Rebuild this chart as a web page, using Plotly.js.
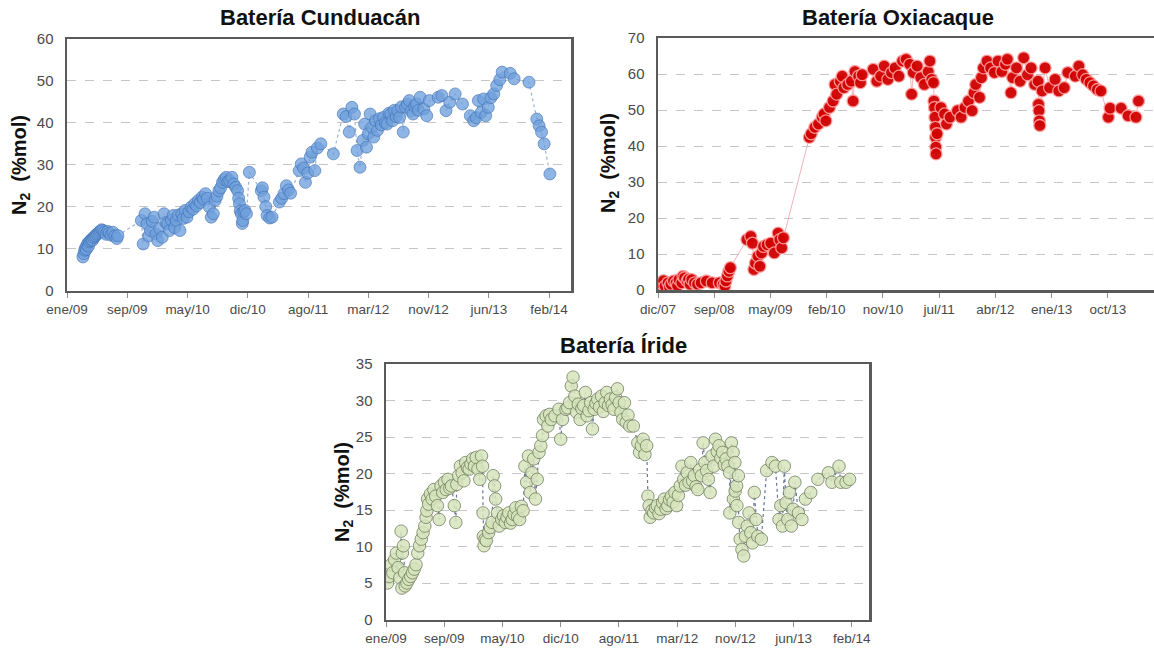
<!DOCTYPE html>
<html>
<head>
<meta charset="utf-8">
<script src="https://cdn.plot.ly/plotly-3.0.1.min.js"></script>
<style>
html,body{margin:0;padding:0;background:#fff;}
#chart{width:1154px;height:649px;}
</style>
</head>
<body>
<div id="chart"></div>
<script>
// ---------------- DATA ----------------
const titles = ['Batería Cunduacán', 'Batería Oxiacaque', 'Batería Íride'];
const yTitle = 'N<sub>2</sub>\u00a0\u00a0(%mol)';

// Tick labels (bottom axes)
const ticksA = ['ene/09','sep/09','may/10','dic/10','ago/11','mar/12','nov/12','jun/13','feb/14'];
const tickDatesA = ['2009-01-25','2009-09-13','2010-05-02','2010-12-19','2011-08-07','2012-03-25','2012-11-11','2013-06-30','2014-02-16'];
const ticksB = ['dic/07','sep/08','may/09','feb/10','nov/10','jul/11','abr/12','ene/13','oct/13'];
const tickDatesB = ['2007-12-14','2008-09-04','2009-05-27','2010-02-16','2010-11-08','2011-07-31','2012-04-21','2013-01-11','2013-10-03'];

// Batería Cunduacán
const cunDates = [
'2009-03-27','2009-03-31','2009-04-03','2009-04-06','2009-04-09','2009-04-12','2009-04-15','2009-04-18','2009-04-21','2009-04-25',
'2009-04-29','2009-05-03','2009-05-07','2009-05-11','2009-05-15','2009-05-19','2009-05-23','2009-05-28','2009-06-02','2009-06-07',
'2009-06-12','2009-06-18','2009-06-24','2009-06-30','2009-07-06','2009-07-13','2009-07-20','2009-07-27','2009-08-04','2009-08-08',
'2009-11-06','2009-11-13','2009-11-20','2009-11-27','2009-12-04','2009-12-11','2009-12-18','2009-12-25','2010-01-01','2010-01-08',
'2010-01-15','2010-01-25','2010-02-01','2010-02-08','2010-02-15','2010-02-22','2010-03-01','2010-03-08','2010-03-14','2010-03-20',
'2010-03-27','2010-04-03','2010-04-10','2010-04-16','2010-04-23','2010-04-30','2010-05-08','2010-05-16','2010-05-23','2010-05-30',
'2010-06-06','2010-06-13','2010-06-20','2010-06-27','2010-07-03','2010-07-10','2010-07-17','2010-07-25','2010-08-01','2010-08-09',
'2010-08-16','2010-08-23','2010-08-30','2010-09-06','2010-09-13','2010-09-20','2010-09-27','2010-10-04','2010-10-11','2010-10-19',
'2010-10-26','2010-11-03','2010-11-10','2010-11-14','2010-11-17','2010-11-20','2010-11-24','2010-11-28','2010-11-30','2010-12-04',
'2010-12-08','2010-12-14','2010-12-25',
'2011-02-09','2011-02-13','2011-02-19','2011-02-26','2011-03-03','2011-03-13','2011-03-22',
'2011-04-19','2011-04-28','2011-05-07','2011-05-16','2011-05-24','2011-06-01',
'2011-07-04','2011-07-12','2011-07-21','2011-07-28','2011-08-06','2011-08-15','2011-08-22','2011-09-02','2011-09-12','2011-09-25',
'2011-11-12',
'2011-12-20','2011-12-31','2012-01-12','2012-01-22','2012-02-01','2012-02-11','2012-02-22','2012-03-04','2012-03-11','2012-03-18',
'2012-03-25','2012-04-01','2012-04-08','2012-04-15','2012-04-22','2012-04-29','2012-05-07','2012-05-14','2012-05-22','2012-05-29',
'2012-06-05','2012-06-12','2012-06-19','2012-06-26','2012-07-03','2012-07-10','2012-07-16','2012-07-23','2012-07-30','2012-08-06',
'2012-08-15','2012-08-22','2012-08-29','2012-09-05','2012-09-12','2012-09-19','2012-09-26','2012-10-03','2012-10-10','2012-10-24',
'2012-11-04','2012-11-14','2012-12-18','2013-01-01','2013-01-17','2013-01-31','2013-02-21','2013-03-21','2013-04-20','2013-05-03',
'2013-05-13','2013-05-21','2013-06-01','2013-06-10','2013-06-18','2013-06-28','2013-07-08','2013-07-19','2013-07-30','2013-08-11',
'2013-08-20','2013-09-20','2013-10-05','2013-12-01','2013-12-31','2014-01-09','2014-01-18','2014-01-28','2014-02-19'];
const cunN2 = [
8.0,8.8,9.6,10.2,9.8,10.8,11.3,10.6,11.6,11.9,
12.2,12.0,12.6,12.9,13.1,13.4,13.6,13.9,14.2,14.5,
14.3,13.9,13.4,14.1,13.7,13.2,13.9,13.0,12.4,13.1,
16.7,11.1,18.3,15.9,13.0,14.3,16.5,17.5,13.5,11.9,
14.8,12.7,18.3,16.2,15.9,14.3,16.8,17.9,15.0,16.7,
18.0,14.3,18.3,17.2,19.1,17.5,18.8,19.9,19.4,20.7,
20.2,21.5,21.0,22.3,21.8,23.1,22.0,19.9,17.5,18.3,
21.5,22.5,23.8,24.5,25.8,26.5,27.0,26.0,26.2,27.0,
25.4,24.6,23.8,22.0,20.7,19.0,18.3,16.0,16.7,18.8,
19.1,18.3,28.2,
23.8,24.5,22.3,20.0,17.9,17.3,17.5,
21.1,22.0,23.1,25.0,24.0,23.2,
28.6,30.2,29.2,25.8,28.0,31.8,33.0,28.6,34.0,35.0,
32.6,
42.1,41.5,37.8,43.7,42.1,33.4,29.4,35.8,39.7,34.2,
37.4,42.1,38.9,36.6,40.5,38.2,41.0,39.5,41.3,40.0,
39.7,42.3,42.1,40.5,43.0,41.5,42.9,41.3,43.8,37.8,
43.7,44.5,45.3,42.8,42.1,44.0,44.5,43.0,46.1,43.3,
41.7,45.3,46.1,46.5,42.9,44.9,46.9,44.5,41.7,40.5,
41.2,45.3,42.5,45.7,41.7,43.7,46.0,46.9,48.9,50.3,
52.1,51.8,50.5,49.7,40.9,39.3,37.8,35.0,27.8];

// Batería Oxiacaque
const oxiDates = [
'2007-12-23','2008-01-04','2008-01-09','2008-01-16','2008-01-30','2008-02-06','2008-02-13','2008-02-25','2008-03-08','2008-03-15',
'2008-03-22','2008-04-04','2008-04-10','2008-04-17','2008-04-29','2008-05-06','2008-05-13','2008-05-21','2008-06-03','2008-06-17',
'2008-07-04','2008-07-29','2008-08-25','2008-09-28','2008-10-16','2008-10-24','2008-10-29','2008-11-05','2008-11-12','2008-11-19',
'2009-02-05','2009-02-23','2009-03-03','2009-03-10','2009-03-17','2009-03-29','2009-04-07','2009-04-15','2009-04-24','2009-05-11',
'2009-05-28','2009-06-14','2009-07-02','2009-07-10','2009-07-19','2009-07-27',
'2009-11-26','2009-12-05','2009-12-22','2010-01-08','2010-01-26','2010-02-03','2010-02-12','2010-03-01','2010-03-18','2010-03-27',
'2010-04-04','2010-04-21','2010-04-30','2010-05-08','2010-05-26','2010-06-12','2010-06-20','2010-06-29','2010-07-16','2010-07-25',
'2010-08-02','2010-09-23','2010-10-10','2010-10-28','2010-11-14','2010-12-01','2010-12-18','2011-01-04','2011-01-22','2011-02-08',
'2011-02-25','2011-03-14','2011-03-23','2011-03-31','2011-04-18','2011-05-05','2011-05-22','2011-06-09','2011-06-17','2011-06-26',
'2011-07-04','2011-07-06','2011-07-09','2011-07-11','2011-07-13','2011-07-14','2011-07-15','2011-07-16','2011-07-21','2011-08-08',
'2011-08-25','2011-09-03','2011-09-20','2011-10-25','2011-11-11','2011-11-29','2011-12-16','2012-01-02','2012-01-11','2012-01-19',
'2012-02-06','2012-02-15','2012-02-24','2012-03-12','2012-03-29','2012-04-16','2012-05-03','2012-05-21','2012-06-07','2012-06-16',
'2012-07-03','2012-07-11','2012-07-29','2012-08-15','2012-09-01','2012-09-19','2012-10-06','2012-10-23','2012-11-08','2012-11-10',
'2012-11-12','2012-11-14','2012-11-16','2012-11-27','2012-12-11','2013-01-01','2013-01-27','2013-02-13','2013-03-11','2013-03-28',
'2013-05-02','2013-05-19','2013-06-06','2013-06-23','2013-07-10','2013-07-27','2013-08-14','2013-08-31','2013-10-05','2013-10-13',
'2013-12-04','2014-01-06','2014-02-12','2014-02-24'];
const oxiN2 = [
0.6,1.6,2.6,1.1,2.0,0.8,1.6,2.5,2.0,1.2,
2.9,2.0,3.8,3.4,2.5,3.0,1.6,2.9,2.0,1.6,
2.0,2.5,2.0,2.0,1.6,1.1,2.5,3.9,5.2,6.2,
14.0,14.9,13.0,5.7,7.5,9.4,6.6,10.3,12.1,12.6,
13.0,10.3,15.8,14.0,11.7,14.5,
42.4,43.4,45.2,46.1,48.0,48.9,47.0,50.7,52.5,57.1,
54.4,58.0,59.4,56.2,57.1,58.0,52.5,60.7,59.4,57.6,
59.8,61.3,58.0,59.4,62.2,58.5,60.4,61.7,59.4,63.6,
64.1,62.7,54.4,60.4,62.2,59.0,57.1,60.7,63.6,58.5,
57.6,52.5,50.7,48.0,45.2,42.4,39.7,37.8,43.4,50.7,
48.9,46.1,48.0,49.8,48.0,50.7,52.5,49.8,54.8,57.1,
53.5,59.0,61.7,63.6,61.7,60.4,63.6,60.7,62.7,64.1,
54.8,59.0,61.7,58.0,64.5,59.8,61.7,57.1,58.0,51.6,
49.8,47.0,45.7,55.3,61.7,56.2,58.5,55.3,56.2,60.4,
59.4,62.2,59.8,58.5,57.6,56.7,55.7,55.3,48.0,50.5,
50.5,48.4,48.0,52.5];

// Batería Íride
const iriDates = [
'2009-01-31','2009-02-07','2009-02-14','2009-02-21','2009-02-28','2009-03-07','2009-03-14','2009-03-21','2009-03-26','2009-03-29',
'2009-03-31','2009-04-04','2009-04-09','2009-04-11','2009-04-18','2009-04-25','2009-05-03','2009-05-10','2009-05-17','2009-05-24',
'2009-05-31','2009-06-07','2009-06-14','2009-06-21','2009-06-28','2009-07-03','2009-07-06','2009-07-09','2009-07-13','2009-07-20',
'2009-07-27','2009-08-03','2009-08-10','2009-08-17','2009-08-24','2009-08-31','2009-09-07','2009-09-14','2009-09-21','2009-09-28',
'2009-10-05','2009-10-12','2009-10-23','2009-10-29','2009-11-02','2009-11-09','2009-11-16','2009-11-23','2009-11-30','2009-12-07',
'2009-12-14','2009-12-21','2009-12-28','2010-01-04','2010-01-11','2010-01-18','2010-01-25','2010-02-01','2010-02-08','2010-02-12',
'2010-02-14','2010-02-15','2010-02-18','2010-02-22','2010-02-27','2010-03-08','2010-03-15','2010-03-22','2010-03-26','2010-04-01',
'2010-04-05','2010-04-12','2010-04-19','2010-04-29','2010-05-06','2010-05-13','2010-05-20','2010-05-27','2010-06-03','2010-06-10',
'2010-06-17','2010-06-24','2010-07-01','2010-07-09','2010-07-16','2010-07-23','2010-07-30','2010-08-06','2010-08-13','2010-08-20',
'2010-08-27','2010-09-03','2010-09-10','2010-09-17','2010-09-24','2010-10-01','2010-10-08','2010-10-12','2010-10-22','2010-10-29',
'2010-11-05','2010-11-12','2010-11-26','2010-12-12','2010-12-19','2010-12-26','2011-01-09','2011-01-16','2011-01-23','2011-01-30',
'2011-02-06','2011-02-13','2011-02-20','2011-02-27','2011-03-06','2011-03-13','2011-03-20','2011-03-27','2011-04-03','2011-04-10',
'2011-04-17','2011-04-24','2011-05-01','2011-05-08','2011-05-15','2011-05-22','2011-05-30','2011-06-06','2011-06-13','2011-06-20',
'2011-06-27','2011-07-04','2011-07-11','2011-07-18','2011-07-25','2011-08-01','2011-08-08','2011-08-15','2011-08-22','2011-08-29',
'2011-09-05','2011-09-12','2011-09-19','2011-10-03','2011-10-21','2011-10-28','2011-11-04','2011-11-11','2011-11-18','2011-11-25',
'2011-11-30','2011-12-05','2011-12-09','2011-12-16','2011-12-23','2011-12-30','2012-01-06','2012-01-13','2012-01-20','2012-01-27',
'2012-02-03','2012-02-10','2012-02-17','2012-02-24','2012-03-02','2012-03-09','2012-03-16','2012-03-23','2012-03-30','2012-04-06',
'2012-04-13','2012-04-20','2012-04-27','2012-05-04','2012-05-11','2012-05-18','2012-05-25','2012-06-01','2012-06-08','2012-06-15',
'2012-06-22','2012-06-29','2012-07-06','2012-07-13','2012-07-20','2012-07-27','2012-08-03','2012-08-10','2012-08-17','2012-08-24',
'2012-08-31','2012-09-07','2012-09-14','2012-09-21','2012-09-28','2012-10-05','2012-10-12','2012-10-19','2012-10-20','2012-10-26',
'2012-11-02','2012-11-03','2012-11-09','2012-11-10','2012-11-16','2012-11-17','2012-11-23','2012-11-24','2012-11-30','2012-12-07',
'2012-12-14','2012-12-21','2012-12-28','2013-01-04','2013-01-11','2013-01-18','2013-01-25','2013-02-01','2013-02-08','2013-02-22',
'2013-03-15','2013-04-05','2013-04-19','2013-05-03','2013-05-10','2013-05-17','2013-05-24','2013-05-31','2013-06-07','2013-06-14',
'2013-06-21','2013-06-28','2013-07-05','2013-07-19','2013-08-02','2013-08-16','2013-09-06','2013-10-04','2013-11-15','2013-11-29',
'2013-12-27','2014-01-03','2014-01-24','2014-02-07'];
const iriN2 = [
5.0,5.9,7.5,6.4,8.2,9.1,7.1,5.7,12.1,4.3,
9.1,10.1,6.4,4.6,5.0,5.5,5.9,6.4,6.9,7.5,
9.1,10.1,11.0,11.9,12.8,14.0,14.9,16.5,15.8,17.2,
16.5,17.8,16.9,15.6,13.7,18.3,17.4,18.8,17.8,19.2,
18.0,18.3,15.6,13.3,18.5,19.7,21.0,20.1,19.0,21.5,
20.8,20.6,21.3,22.0,21.0,22.2,20.6,19.2,22.4,21.0,
14.6,11.4,10.1,11.0,10.8,11.9,12.6,13.3,19.7,18.3,
16.5,14.6,12.8,13.7,14.2,13.3,14.0,14.6,13.2,13.7,
14.4,15.3,14.1,13.7,15.5,14.9,21.0,18.8,22.4,17.4,
20.1,22.0,16.5,19.2,22.9,23.8,25.2,27.4,27.9,26.5,
28.1,27.4,27.9,28.8,24.7,27.4,28.8,29.0,29.7,32.0,
33.2,30.6,28.4,29.5,27.4,28.9,29.3,31.1,27.9,28.6,
29.7,26.1,28.8,29.6,30.2,29.1,30.6,28.5,29.7,31.1,
29.3,30.2,29.4,28.8,30.4,31.6,29.7,28.4,27.4,29.7,
27.0,28.0,26.5,26.5,24.2,22.9,23.8,24.7,22.6,23.8,
16.9,15.6,14.0,14.9,14.6,15.3,15.6,14.5,15.1,16.0,
16.5,15.2,15.6,16.4,16.9,16.1,17.4,15.6,17.0,18.3,
21.0,19.2,18.4,20.1,18.8,21.5,19.0,19.7,18.2,17.8,
20.5,19.7,24.2,21.5,20.4,19.2,17.4,22.4,21.0,24.7,
23.0,23.8,22.1,22.9,21.2,22.0,21.0,20.1,14.6,24.2,
22.9,16.5,21.5,17.6,18.3,15.6,19.7,13.3,11.0,9.6,
8.7,11.4,12.8,14.6,11.9,10.5,17.4,13.7,11.4,11.0,
20.4,21.5,21.0,13.7,15.6,12.8,21.0,16.0,13.7,17.4,
12.8,15.1,18.8,14.6,13.7,16.5,17.4,19.2,20.1,18.8,
21.0,18.8,18.8,19.2];

// ---------------- LAYOUT HELPERS ----------------
const W = 1154, H = 649;
const px = v => v / W;
const py = v => (H - v) / H;

const tickFont = {family: 'Liberation Sans, Arial, sans-serif', size: 13.5, color: '#4a4a4a'};
const yTickFont = {family: 'Liberation Sans, Arial, sans-serif', size: 15, color: '#4a4a4a'};

function xAxis(dom, range, tv, tt, anchor) {
  return {
    type: 'date', domain: dom, range: range, anchor: anchor,
    tickmode: 'array', tickvals: tv, ticktext: tt,
    ticks: 'outside', ticklen: 5, tickwidth: 1, tickcolor: '#8c8c8c',
    tickfont: tickFont, showgrid: false, zeroline: false,
    showline: true, linecolor: '#5a5a5a', linewidth: 2.5, mirror: true
  };
}
function yAxis(dom, maxv, step, anchor) {
  return {
    domain: dom, range: [0, maxv], dtick: step, tick0: 0, anchor: anchor,
    ticks: 'outside', ticklen: 8, tickcolor: 'rgba(0,0,0,0)',
    tickfont: yTickFont, showgrid: true, gridcolor: '#c6c6c6', gridwidth: 1, griddash: 'dash',
    zeroline: false, showline: true, linecolor: '#5a5a5a', linewidth: 2.5, mirror: true
  };
}

const traces = [
  {
    x: cunDates, y: cunN2, xaxis: 'x', yaxis: 'y', type: 'scatter', mode: 'lines+markers',
    line: {color: '#9bb5d8', width: 1.2, dash: 'dot'},
    marker: {size: 12, color: 'rgba(112,160,220,0.78)', line: {color: 'rgba(62,110,178,0.6)', width: 1}},
    hoverinfo: 'skip'
  },
  {
    x: oxiDates, y: oxiN2, xaxis: 'x2', yaxis: 'y2', type: 'scatter', mode: 'lines+markers',
    line: {color: 'rgba(240,170,180,0.9)', width: 1},
    marker: {size: 12, color: 'rgba(208,0,0,0.95)', line: {color: 'rgba(255,160,160,0.9)', width: 1.3}},
    hoverinfo: 'skip'
  },
  {
    x: iriDates, y: iriN2, xaxis: 'x3', yaxis: 'y3', type: 'scatter', mode: 'lines+markers',
    line: {color: '#67769a', width: 1.2, dash: 'dot'},
    marker: {size: 12.5, color: 'rgba(214,228,188,0.85)', line: {color: 'rgba(105,120,90,0.75)', width: 1}},
    hoverinfo: 'skip'
  }
];

const titleFont = {family: 'Liberation Sans, Arial, sans-serif', size: 22, color: '#111'};
const yTitleFont = {family: 'Liberation Sans, Arial, sans-serif', size: 20, color: '#111'};

const layout = {
  width: W, height: H,
  margin: {l: 0, r: 0, t: 0, b: 0},
  paper_bgcolor: '#ffffff', plot_bgcolor: '#ffffff',
  showlegend: false,
  xaxis: xAxis([px(67), px(571)], ['2009-01-25', '2014-05-11'], tickDatesA, ticksA, 'y'),
  yaxis: yAxis([py(290.5), py(39)], 60, 10, 'x'),
  xaxis2: xAxis([px(658), 1], ['2007-12-14', '2014-05-08'], tickDatesB, ticksB, 'y2'),
  yaxis2: yAxis([py(290), py(38)], 70, 10, 'x2'),
  xaxis3: xAxis([px(386), px(869)], ['2009-01-25', '2014-04-25'], tickDatesA, ticksA, 'y3'),
  yaxis3: yAxis([py(619.5), py(364)], 35, 5, 'x3'),
  annotations: [
    {text: '<b>' + titles[0] + '</b>', x: px(320), y: py(18), xref: 'paper', yref: 'paper', xanchor: 'center', yanchor: 'middle', showarrow: false, font: titleFont},
    {text: '<b>' + titles[1] + '</b>', x: px(898), y: py(18), xref: 'paper', yref: 'paper', xanchor: 'center', yanchor: 'middle', showarrow: false, font: titleFont},
    {text: '<b>' + titles[2] + '</b>', x: px(623), y: py(345), xref: 'paper', yref: 'paper', xanchor: 'center', yanchor: 'middle', showarrow: false, font: titleFont},
    {text: '<b>' + yTitle + '</b>', textangle: -90, x: px(20), y: py(165), xref: 'paper', yref: 'paper', xanchor: 'center', yanchor: 'middle', showarrow: false, font: yTitleFont},
    {text: '<b>' + yTitle + '</b>', textangle: -90, x: px(609), y: py(163), xref: 'paper', yref: 'paper', xanchor: 'center', yanchor: 'middle', showarrow: false, font: yTitleFont},
    {text: '<b>' + yTitle + '</b>', textangle: -90, x: px(343), y: py(492), xref: 'paper', yref: 'paper', xanchor: 'center', yanchor: 'middle', showarrow: false, font: yTitleFont}
  ]
};

Plotly.newPlot('chart', traces, layout, {displayModeBar: false, staticPlot: true});
</script>
</body>
</html>
